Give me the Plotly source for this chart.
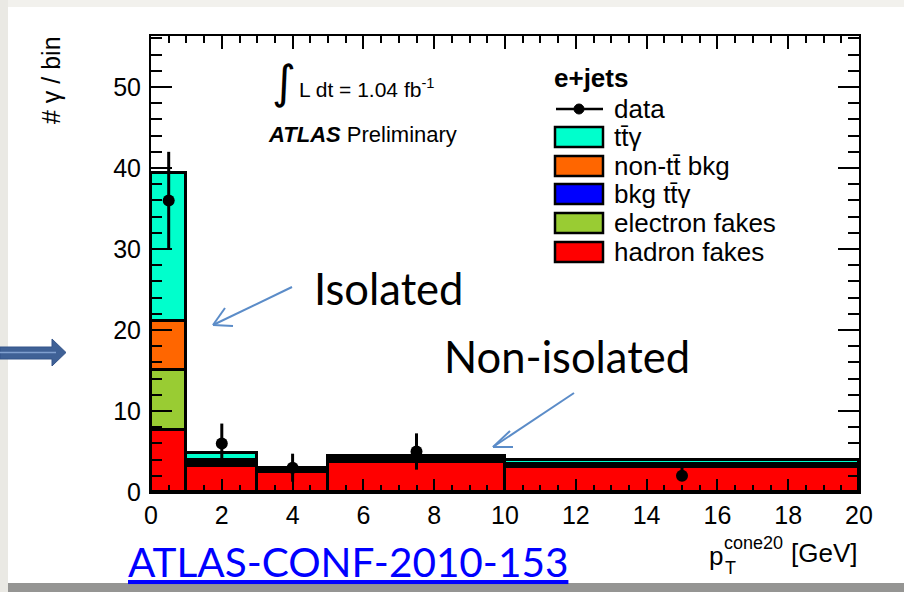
import numpy as np
import plotly.graph_objects as go

# Binning in p_T^cone20 [GeV] (variable-width bins)
bin_edges = [0, 1, 3, 5, 10, 20]

# Stacked expectations per bin (# photons / bin)
hadron_fakes = [7.7, 3.25, 2.5, 3.75, 3.1]
electron_fakes = [7.4, 0.22, 0.15, 0.2, 0.15]
bkg_ttgamma = [0.0, 0.2, 0.05, 0.2, 0.02]
non_tt_bkg = [6.0, 0.22, 0.2, 0.22, 0.2]
ttgamma = [18.25, 0.95, 0.08, 0.1, 0.5]

# Observed data
data_x = [0.5, 2, 4, 7.5, 15]
data_y = [36, 6, 3, 5, 2]
data_err_up = [6.0, 2.45, 1.73, 2.24, 1.0]
data_err_down = [6.0, 2.45, 1.73, 2.24, 0.6]

legend_labels = ["data", "tt\u0304\u03b3", "non-tt\u0304 bkg", "bkg tt\u0304\u03b3",
                 "electron fakes", "hadron fakes"]

edges = np.array(bin_edges, dtype=float)
centers = 0.5 * (edges[:-1] + edges[1:])
widths = np.diff(edges)

W, H = 904, 592
L, R, T, B = 151, 45, 36, 100
PW, PH = W - L - R, H - T - B


def px(x):
    return (x - L) / PW


def py(y):
    return (H - B - y) / PH


ROOT_FONT = "Liberation Sans"
SLIDE_FONT = "Lato"

fig = go.Figure()

components = [
    ("hadron fakes", hadron_fakes, "#ff0000"),
    ("electron fakes", electron_fakes, "#99cc33"),
    ("bkg tt\u0304\u03b3", bkg_ttgamma, "#0000ff"),
    ("non-tt\u0304 bkg", non_tt_bkg, "#ff6600"),
    ("tt\u0304\u03b3", ttgamma, "#00ffcc"),
]
for name, vals, col in components:
    fig.add_trace(go.Bar(
        x=centers, y=vals, width=widths, name=name,
        marker=dict(color=col, line=dict(color="black", width=2.6)),
        showlegend=False,
    ))

fig.add_trace(go.Scatter(
    x=data_x, y=data_y, mode="markers", name="data",
    marker=dict(color="black", size=12),
    error_y=dict(type="data", array=data_err_up, arrayminus=data_err_down,
                 color="black", thickness=3, width=0),
    showlegend=False,
))

fig.update_layout(
    width=W, height=H,
    margin=dict(l=L, r=R, t=T, b=B, pad=0),
    paper_bgcolor="white", plot_bgcolor="white",
    barmode="stack", bargap=0,
    showlegend=False,
    font=dict(family=ROOT_FONT, color="black"),
)

axis_common = dict(
    showline=True, linecolor="black", linewidth=2, mirror="allticks",
    ticks="inside", tickcolor="black", tickwidth=2,
    showgrid=False, zeroline=False,
    tickfont=dict(family=ROOT_FONT, size=25, color="black"),
)
fig.update_xaxes(range=[0, 20], dtick=2, tick0=0, ticklen=13,
                 minor=dict(dtick=0.5, ticklen=7, tickwidth=2, ticks="inside",
                            tickcolor="black"),
                 **axis_common)
fig.update_yaxes(range=[0, 56.3], dtick=10, tick0=0, ticklen=21,
                 ticklabelstandoff=3,
                 minor=dict(dtick=2, ticklen=11, tickwidth=2, ticks="inside",
                            tickcolor="black"),
                 **axis_common)

shapes = []
# slide surroundings
shapes.append(dict(type="rect", xref="paper", yref="paper", x0=px(0), x1=px(W),
                   y0=py(0), y1=py(7), fillcolor="#f2f1ed", line_width=0, layer="below"))
shapes.append(dict(type="rect", xref="paper", yref="paper", x0=px(0), x1=px(8),
                   y0=py(0), y1=py(H), fillcolor="#eae9e4", line_width=0, layer="below"))
shapes.append(dict(type="rect", xref="paper", yref="paper", x0=px(8), x1=px(W),
                   y0=py(583), y1=py(H), fillcolor="#959593", line_width=0, layer="below"))

# block arrow on the left
pts = [(0, 347), (52, 347), (52, 339), (66, 352.5), (52, 366), (52, 359), (0, 359)]
path = "M " + " L ".join(f"{px(a):.5f},{py(b):.5f}" for a, b in pts) + " Z"
shapes.append(dict(type="path", xref="paper", yref="paper", path=path,
                   fillcolor="#3f6196", line=dict(color="#34548a", width=1)))
shapes.append(dict(type="line", xref="paper", yref="paper", x0=px(0), x1=px(56),
                   y0=py(352.5), y1=py(352.5), line=dict(color="#7f9fcf", width=1.5)))

# annotation arrows
arrow_col = "#5b8cc8"
for (x0, y0), (x1, y1), h1, h2 in [
    ((292, 287), (213, 325), (225, 308), (233, 326)),
    ((574, 393), (493, 447), (510, 431), (513, 447)),
]:
    shapes.append(dict(type="line", xref="paper", yref="paper", x0=px(x0), y0=py(y0),
                       x1=px(x1), y1=py(y1), line=dict(color=arrow_col, width=2)))
    for hx, hy in (h1, h2):
        shapes.append(dict(type="line", xref="paper", yref="paper", x0=px(x1), y0=py(y1),
                           x1=px(hx), y1=py(hy), line=dict(color=arrow_col, width=2)))

# legend swatches
entry_y = [109, 137, 166, 194, 223, 252]
swatch_cols = ["#00ffcc", "#ff6600", "#0000ff", "#99cc33", "#ff0000"]
shapes.append(dict(type="line", xref="paper", yref="paper", x0=px(556), x1=px(603),
                   y0=py(entry_y[0]), y1=py(entry_y[0]), line=dict(color="black", width=2.5)))
shapes.append(dict(type="circle", xref="paper", yref="paper", x0=px(574), x1=px(584),
                   y0=py(entry_y[0] - 5), y1=py(entry_y[0] + 5), fillcolor="black",
                   line=dict(color="black", width=1)))
for yy, col in zip(entry_y[1:], swatch_cols):
    shapes.append(dict(type="rect", xref="paper", yref="paper", x0=px(555), x1=px(603),
                       y0=py(yy - 10), y1=py(yy + 10), fillcolor=col,
                       line=dict(color="black", width=2.5)))

fig.update_layout(shapes=shapes)

ann = []


def text(x, y, s, size, xanchor="left", yanchor="middle", family=ROOT_FONT,
         color="black", angle=0):
    ann.append(dict(xref="paper", yref="paper", x=px(x), y=py(y), text=s,
                    showarrow=False, xanchor=xanchor, yanchor=yanchor,
                    font=dict(family=family, size=size, color=color),
                    textangle=angle))


text(284, 82, "\u222b", 46, xanchor="center", family="DejaVu Sans")
text(297, 88, "L dt = 1.04 fb<sup>-1</sup>", 21)
text(266, 135, "<b><i>ATLAS</i></b> Preliminary", 22)
text(552, 78, "<b>e+jets</b>", 26)
for yy, lab in zip(entry_y, legend_labels):
    text(612, yy, lab, 26)

text(51, 34, "# \u03b3 / bin", 25, xanchor="center", yanchor="top", angle=-90)
text(707, 556, "p", 26)
text(722, 543, "cone20", 18)
text(723, 568, "T", 18)
text(789, 553, "[GeV]", 26)

text(312, 288, "Isolated", 43.5, family=SLIDE_FONT)
text(442, 356, "Non-isolated", 43.5, family=SLIDE_FONT)
text(126, 561, "<u>ATLAS-CONF-2010-153</u>", 40.5, family=SLIDE_FONT, color="#0000ff")

fig.update_layout(annotations=ann)

fig.write_html("out.html")
